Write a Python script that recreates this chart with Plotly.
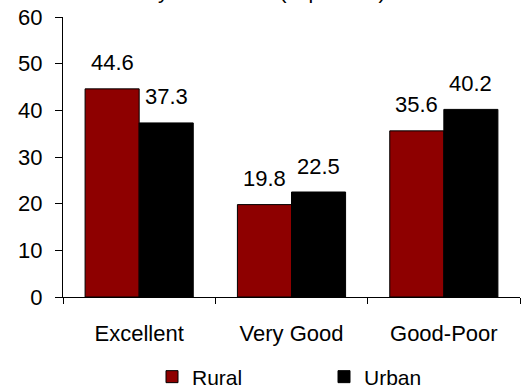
import plotly.graph_objects as go

categories = ["Excellent", "Very Good", "Good-Poor"]
rural = [44.6, 19.8, 35.6]
urban = [37.3, 22.5, 40.2]
y_ticks = [0, 10, 20, 30, 40, 50, 60]
title_text = "By Residence (in percent)"

FONT = "Liberation Sans, Arial, sans-serif"
FS = 22
RURAL_COLOR = "#8E0000"
URBAN_COLOR = "#000000"

fig = go.Figure()
fig.add_trace(go.Bar(name="Rural", x=categories, y=rural, marker=dict(color=RURAL_COLOR, line=dict(color="black", width=1))))
fig.add_trace(go.Bar(name="Urban", x=categories, y=urban, marker=dict(color=URBAN_COLOR, line=dict(color="black", width=1))))

half = 27
for c, v in zip(categories, rural):
    fig.add_annotation(x=c, y=v, xref="x", yref="y", text=str(v), showarrow=False,
                       xshift=-half, yshift=26, yanchor="middle", font=dict(size=FS, color="black", family=FONT))
for c, v in zip(categories, urban):
    fig.add_annotation(x=c, y=v, xref="x", yref="y", text=str(v), showarrow=False,
                       xshift=half, yshift=26, yanchor="middle", font=dict(size=FS, color="black", family=FONT))

# title, mostly clipped at the top edge as in the reference
fig.add_annotation(x=(265 - 63) / 457, y=1.092, xref="paper", yref="paper", text=title_text, showarrow=False,
                   xanchor="center", yanchor="middle", font=dict(size=21, color="black", family=FONT))

fig.update_layout(
    width=532, height=391,
    margin=dict(l=63, r=12, t=17, b=94, autoexpand=False),
    paper_bgcolor="white", plot_bgcolor="white",
    font=dict(family=FONT, size=FS, color="black"),
    barmode="group", bargap=0.29, bargroupgap=0,
    showlegend=True,
    legend=dict(orientation="h", xref="container", yref="container", x=152/532, xanchor="left",
                y=1 - 377/391, yanchor="middle", entrywidth=127, entrywidthmode="pixels",
                font=dict(size=21, color="black", family=FONT), bgcolor="rgba(0,0,0,0)"),
)
fig.update_xaxes(showline=True, linecolor="black", linewidth=1, ticks="outside", ticklen=6,
                 tickcolor="black", tickson="boundaries", showgrid=False, ticklabelstandoff=17,
                 automargin=False, tickfont=dict(size=FS, color="black", family=FONT))
fig.update_yaxes(range=[0, 60], tickvals=y_ticks, showline=True, linecolor="black", linewidth=1,
                 ticks="outside", ticklen=7, tickcolor="black", showgrid=False, zeroline=False,
                 automargin=False, ticklabelstandoff=8, tickfont=dict(size=FS, color="black", family=FONT))

fig.write_html("out.html", config={"displayModeBar": False},
               post_script="document.body.style.margin='0';document.body.style.overflow='hidden';")
